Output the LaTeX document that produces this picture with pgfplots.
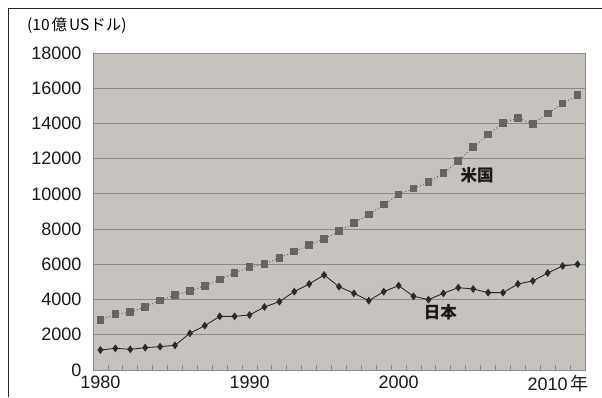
\documentclass[border=0pt]{standalone}
\usepackage{fontspec}
\setmainfont{Liberation Sans}
\newfontfamily\jp{Noto Sans CJK JP}
\usepackage{pgfplots}
\pgfplotsset{compat=1.18}
\definecolor{plotbg}{HTML}{C6C2BE}
\definecolor{gridc}{HTML}{8C8985}
\definecolor{usc}{HTML}{666464}
\definecolor{jpc}{HTML}{2B2B2B}
\begin{document}
\begin{tikzpicture}[x=1pt,y=1pt]
\useasboundingbox (0,0) rectangle (602,397);
\draw[line width=1pt, black!85] (8,0) -- (8,388) -- (602,388);
\node[anchor=west, inner sep=0pt] at (27,371) {\jp\fontsize{15.5}{15.5}\selectfont (10\hspace{2pt}億\hspace{2pt}US\hspace{1pt}ドル)};
\begin{axis}[
  at={(93pt,27pt)}, anchor=south west,
  scale only axis, width=492pt, height=317pt,
  xmin=1979.5, xmax=2012.5, ymin=0, ymax=18000,
  axis background/.style={fill=plotbg},
  axis line style={draw=gridc, line width=0.9pt},
  ytick={0,2000,...,18000},
  ymajorgrids, grid style={gridc, line width=0.8pt},
  xtick={1980,1990,2000,2010},
  xticklabels={1980,1990,2000,{2010\rlap{\,\jp 年}}},
  minor xtick={1980.5,1981.5,...,2011.5},
  major tick length=0pt, minor tick length=5pt,
  tick align=inside, xtick pos=bottom, ytick pos=left,
  minor tick style={gridc, line width=0.8pt},
  scaled ticks=false,
  /pgf/number format/.cd, 1000 sep={}, assume math mode=true, /pgfplots/.cd,
  ticklabel style={font=\fontsize{18}{18}\selectfont, black!90},
  yticklabel style={xshift=-8pt},
  xticklabel style={yshift=-2pt},
  clip=false,
]
\addplot[usc, line width=1pt, dash pattern=on 1pt off 2.2pt, mark=square*,
  mark size=3.3pt, mark options={solid, fill=usc, draw=usc}] coordinates {
(1980,2823) (1981,3164) (1982,3277) (1983,3578) (1984,3957) (1985,4260)
(1986,4487) (1987,4771) (1988,5130) (1989,5510) (1990,5850) (1991,6003)
(1992,6362) (1993,6720) (1994,7100) (1995,7441) (1996,7878) (1997,8350)
(1998,8822) (1999,9390) (2000,9958) (2001,10299) (2002,10662) (2003,11173)
(2004,11871) (2005,12649) (2006,13367) (2007,14030) (2008,14314) (2009,13956)
(2010,14560) (2011,15128) (2012,15620)};
\addplot[jpc, line width=0.9pt, mark=diamond*, mark size=3.2pt,
  mark options={fill=jpc, draw=jpc}] coordinates {
(1980,1136) (1981,1231) (1982,1174) (1983,1268) (1984,1325) (1985,1401)
(1986,2083) (1987,2518) (1988,3048) (1989,3048) (1990,3124) (1991,3578)
(1992,3881) (1993,4449) (1994,4885) (1995,5396) (1996,4733) (1997,4354)
(1998,3938) (1999,4449) (2000,4790) (2001,4184) (2002,3995) (2003,4354)
(2004,4676) (2005,4600) (2006,4392) (2007,4392) (2008,4885) (2009,5055)
(2010,5510) (2011,5907) (2012,6003)};
\node[font=\jp\bfseries\fontsize{16.5}{16.5}\selectfont, black!90] at (axis cs:2005.26,11076) {米国};
\node[font=\jp\bfseries\fontsize{16.5}{16.5}\selectfont, black!90] at (axis cs:2002.8,3300) {日本};
\end{axis}
\end{tikzpicture}
\end{document}
